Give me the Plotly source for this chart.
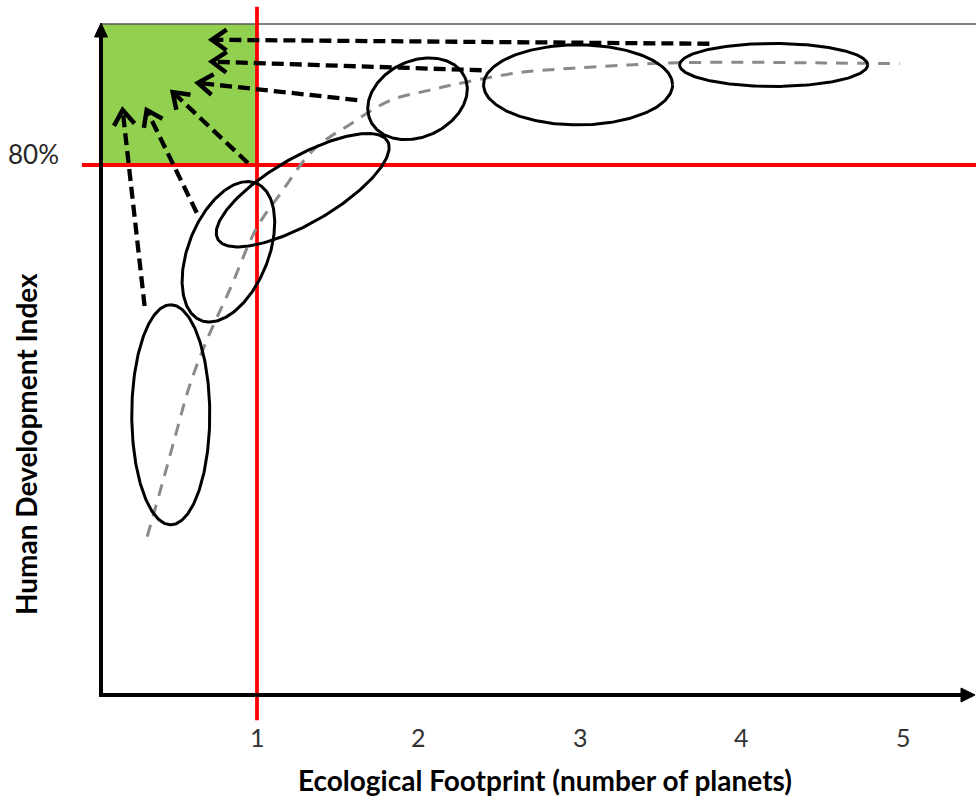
import numpy as np
import plotly.graph_objects as go

# ------------------------------------------------------------------ data
tick_values = [1, 2, 3, 4, 5]
tick_labels = ["1", "2", "3", "4", "5"]
hdi_threshold = 80            # Human Development Index threshold (%)
footprint_threshold = 1       # one planet

# gray dashed trend curve (footprint, HDI %)
trend_x = [0.32, 0.42, 0.50, 0.58, 0.69, 0.83, 1.00, 1.14, 1.35, 1.58,
           1.83, 2.07, 2.29, 2.61, 2.95, 3.30, 3.54, 4.03, 4.52, 4.98]
trend_y = [23.9, 32.5, 39.6, 46.5, 53.6, 61.1, 70.6, 75.5, 82.3, 86.2,
           89.8, 91.3, 92.5, 93.9, 94.6, 95.1, 95.4, 95.5, 95.4, 95.3]

# country-group clusters: centre (footprint, HDI %)
cluster_x = [0.466, 0.823, 1.283, 1.994, 2.988, 4.199]
cluster_y = [42.3, 66.9, 76.2, 90.0, 92.1, 95.1]

# development paths: start and end (footprint, HDI %)
arrow_from_x = [0.304, 0.627, 0.944, 1.621, 2.391, 3.801]
arrow_from_y = [58.7, 72.8, 80.3, 89.8, 94.3, 98.3]
arrow_to_x = [0.168, 0.317, 0.478, 0.634, 0.720, 0.720]
arrow_to_y = [88.3, 88.3, 91.0, 92.4, 95.6, 98.9]

# ------------------------------------------------------------------ layout / geometry
W, H = 976, 799
X_ORIGIN_PX = 257.0     # pixel column of footprint = 1
X_SCALE = 161.5         # px per planet
Y_ORIGIN_PX = 695.0     # pixel row of HDI = 0
Y_SCALE = 6.625         # px per HDI point

x_range = [1 - X_ORIGIN_PX / X_SCALE, 1 + (W - X_ORIGIN_PX) / X_SCALE]
y_range = [-(H - Y_ORIGIN_PX) / Y_SCALE, Y_ORIGIN_PX / Y_SCALE]

# ellipse outline geometry in pixels: semi-axes and tilt (deg, counter-clockwise)
ell_a = [110, 74, 98, 52, 94.5, 94]
ell_b = [39, 40, 33, 38, 40, 21.5]
ell_tilt = [90, 68, 30, 25, 0, 0]

AXIS_X = 0.034
TOP_Y = 101.3
FONT = "Lato"

fig = go.Figure()

# background panels and reference lines
fig.add_shape(type="rect", x0=AXIS_X, x1=footprint_threshold, y0=hdi_threshold, y1=TOP_Y,
              fillcolor="#92D050", line_width=0, layer="below")
fig.add_shape(type="line", x0=AXIS_X, x1=x_range[1], y0=TOP_Y, y1=TOP_Y,
              line=dict(color="#595959", width=1.5), layer="below")
fig.add_shape(type="line", x0=footprint_threshold, x1=footprint_threshold,
              y0=-3.8, y1=103.9, line=dict(color="#FF0000", width=3.8), layer="below")
fig.add_shape(type="line", x0=-0.084, x1=x_range[1], y0=hdi_threshold, y1=hdi_threshold,
              line=dict(color="#FF0000", width=3.8), layer="below")

# trend curve
fig.add_trace(go.Scatter(x=trend_x, y=trend_y, mode="lines",
                         line=dict(color="#8a8a8a", width=3, dash="12px,9px", shape="spline"),
                         hoverinfo="skip"))

# cluster ellipses
t = np.linspace(0, 2 * np.pi, 240)
for cx, cy, a, b, th in zip(cluster_x, cluster_y, ell_a, ell_b, ell_tilt):
    r = np.deg2rad(th)
    u, v = a * np.cos(t), b * np.sin(t)
    px = u * np.cos(r) - v * np.sin(r)
    py = u * np.sin(r) + v * np.cos(r)
    fig.add_trace(go.Scatter(x=cx + px / X_SCALE, y=cy + py / Y_SCALE, mode="lines",
                             line=dict(color="black", width=3), hoverinfo="skip"))

# dashed arrows with chevron heads
ARM = 18.0
HALF = np.deg2rad(35)
for fx, fy, tx, ty in zip(arrow_from_x, arrow_from_y, arrow_to_x, arrow_to_y):
    dx = (tx - fx) * X_SCALE
    dy = (ty - fy) * Y_SCALE
    n = np.hypot(dx, dy)
    ux, uy = dx / n, dy / n
    ex, ey = tx - 3 * ux / X_SCALE, ty - 3 * uy / Y_SCALE
    fig.add_trace(go.Scatter(x=[fx, ex], y=[fy, ey], mode="lines",
                             line=dict(color="black", width=4.3, dash="12px,6px"),
                             hoverinfo="skip"))
    hx, hy = [], []
    for s in (1, -1):
        c, sn = np.cos(s * HALF), np.sin(s * HALF)
        bx = (-ux) * c - (-uy) * sn
        by = (-ux) * sn + (-uy) * c
        hx.append(tx + ARM * bx / X_SCALE)
        hy.append(ty + ARM * by / Y_SCALE)
    fig.add_trace(go.Scatter(x=[hx[0], tx, hx[1]], y=[hy[0], ty, hy[1]], mode="lines",
                             line=dict(color="black", width=4.5), hoverinfo="skip"))

# axes with arrowheads
x_tip = 1 + (975 - X_ORIGIN_PX) / X_SCALE
y_tip = (Y_ORIGIN_PX - 23) / Y_SCALE
fig.add_trace(go.Scatter(x=[AXIS_X, AXIS_X], y=[-0.3, y_tip - 10 / Y_SCALE], mode="lines",
                         line=dict(color="black", width=4), hoverinfo="skip"))
fig.add_trace(go.Scatter(x=[AXIS_X - 2 / X_SCALE, x_tip - 10 / X_SCALE], y=[0, 0], mode="lines",
                         line=dict(color="black", width=4), hoverinfo="skip"))
fig.add_trace(go.Scatter(
    x=[AXIS_X - 6.5 / X_SCALE, AXIS_X, AXIS_X + 6.5 / X_SCALE, AXIS_X - 6.5 / X_SCALE],
    y=[y_tip - 14 / Y_SCALE, y_tip, y_tip - 14 / Y_SCALE, y_tip - 14 / Y_SCALE],
    mode="lines", fill="toself", fillcolor="black", line=dict(color="black", width=1),
    hoverinfo="skip"))
fig.add_trace(go.Scatter(
    x=[x_tip - 14 / X_SCALE, x_tip, x_tip - 14 / X_SCALE, x_tip - 14 / X_SCALE],
    y=[7 / Y_SCALE, 0, -7 / Y_SCALE, 7 / Y_SCALE],
    mode="lines", fill="toself", fillcolor="black", line=dict(color="black", width=1),
    hoverinfo="skip"))

# tick labels and titles
for v, lab in zip(tick_values, tick_labels):
    fig.add_annotation(x=v, y=-6.3, text=lab, showarrow=False,
                       font=dict(family=FONT, size=25, color="#333333"))
fig.add_annotation(x=1 + (33 - X_ORIGIN_PX) / X_SCALE, y=81.6, text=f"{hdi_threshold}%",
                   showarrow=False, font=dict(family=FONT, size=26, color="#262626"))
fig.add_annotation(x=1 + (545 - X_ORIGIN_PX) / X_SCALE, y=(Y_ORIGIN_PX - 780) / Y_SCALE,
                   text="<b>Ecological Footprint (number of planets)</b>", showarrow=False,
                   font=dict(family=FONT, size=28, color="black"))
fig.add_annotation(x=1 + (26 - X_ORIGIN_PX) / X_SCALE, y=(Y_ORIGIN_PX - 444) / Y_SCALE,
                   text="<b>Human Development Index</b>", showarrow=False, textangle=-90,
                   font=dict(family=FONT, size=28, color="black"))

fig.update_layout(
    width=W, height=H, margin=dict(l=0, r=0, t=0, b=0),
    paper_bgcolor="white", plot_bgcolor="white", showlegend=False,
    xaxis=dict(range=x_range, visible=False, fixedrange=True),
    yaxis=dict(range=y_range, visible=False, fixedrange=True),
)

fig.write_html("out.html", config={"displayModeBar": False},
               post_script="document.body.style.margin='0';document.body.style.overflow='hidden';")
